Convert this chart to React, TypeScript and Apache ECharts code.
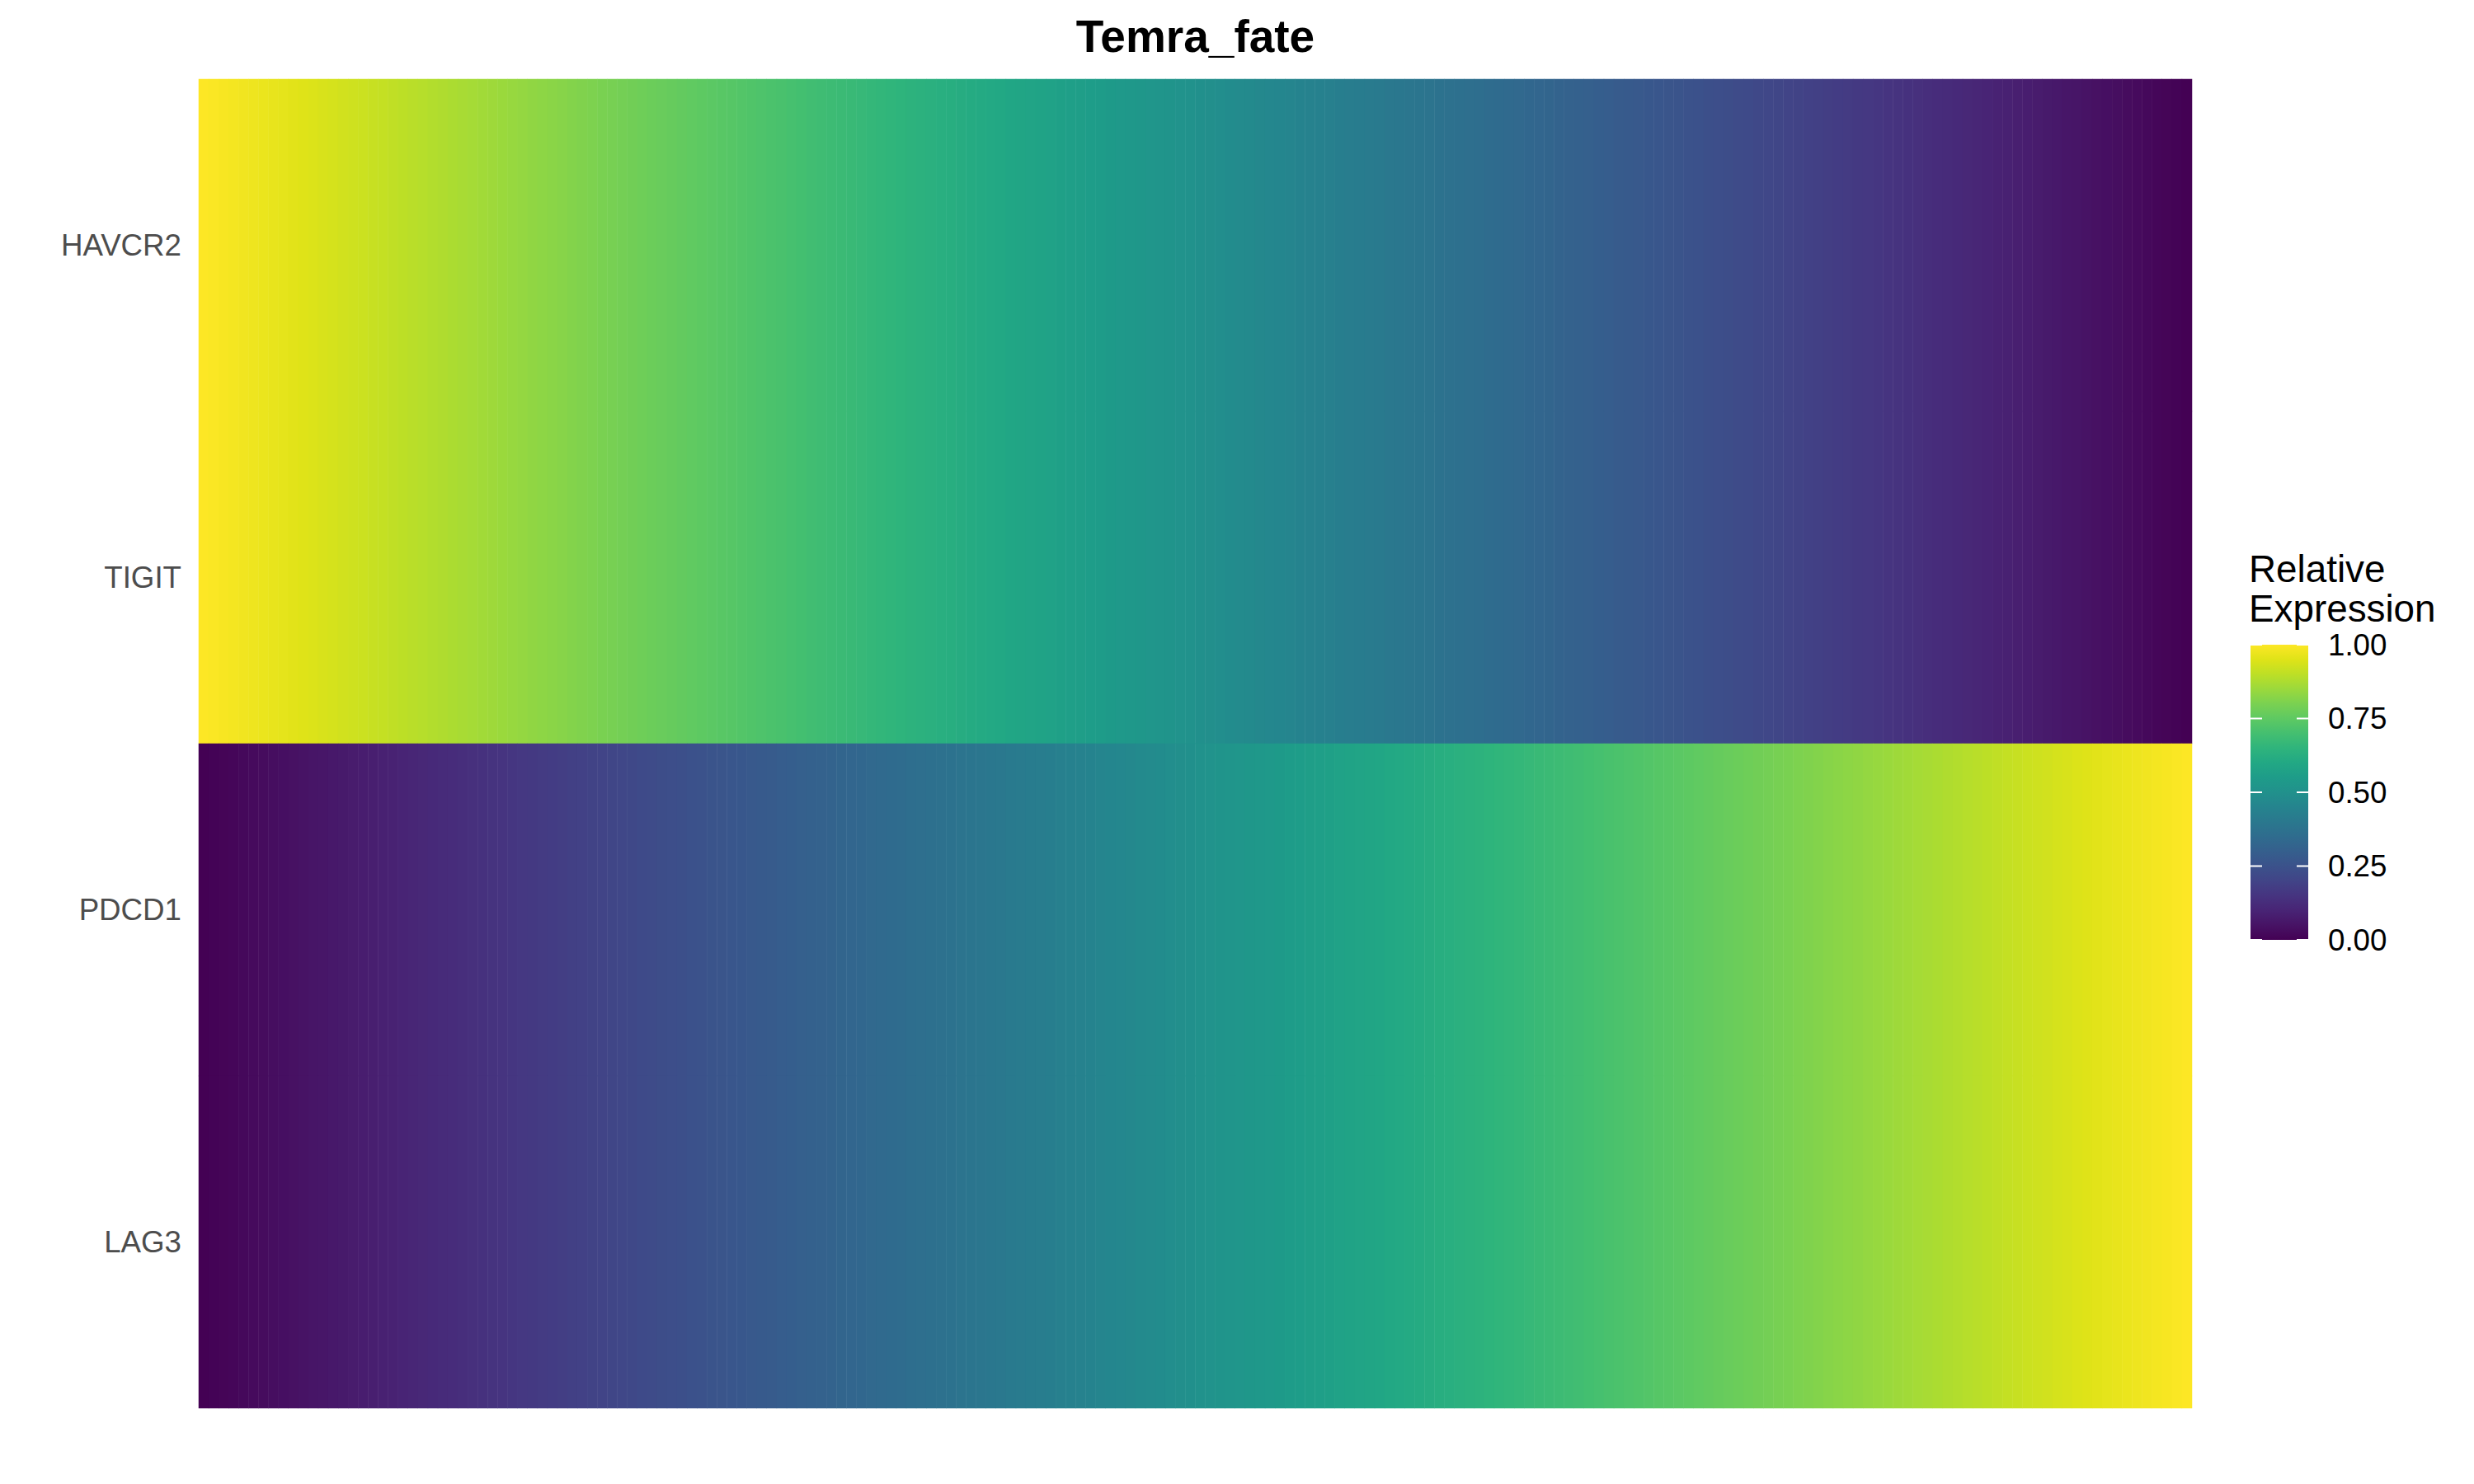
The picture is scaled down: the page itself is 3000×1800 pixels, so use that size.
import React, { useEffect, useRef } from "react";
import * as echarts from "echarts";

const chartTitle = "Temra_fate";
const genes = ["HAVCR2", "TIGIT", "PDCD1", "LAG3"];

// Relative expression along the fate trajectory (200 bins)
const declining = [
  1, 0.995, 0.99, 0.985, 0.98, 0.975, 0.97, 0.965, 0.96, 0.955, 0.95, 0.945, 0.94, 0.935, 0.93, 0.925, 0.92, 0.915, 0.91, 0.905,
  0.899, 0.894, 0.889, 0.884, 0.879, 0.874, 0.869, 0.864, 0.859, 0.854, 0.849, 0.844, 0.839, 0.834, 0.829, 0.824, 0.819, 0.814, 0.809, 0.804,
  0.799, 0.794, 0.789, 0.784, 0.779, 0.774, 0.769, 0.764, 0.759, 0.754, 0.749, 0.744, 0.739, 0.734, 0.729, 0.724, 0.719, 0.714, 0.709, 0.704,
  0.698, 0.693, 0.688, 0.683, 0.678, 0.673, 0.668, 0.663, 0.658, 0.653, 0.648, 0.643, 0.638, 0.633, 0.628, 0.623, 0.618, 0.613, 0.608, 0.603,
  0.598, 0.593, 0.588, 0.583, 0.578, 0.573, 0.568, 0.563, 0.558, 0.553, 0.548, 0.543, 0.538, 0.533, 0.528, 0.523, 0.518, 0.513, 0.508, 0.503,
  0.497, 0.492, 0.487, 0.482, 0.477, 0.472, 0.467, 0.462, 0.457, 0.452, 0.447, 0.442, 0.437, 0.432, 0.427, 0.422, 0.417, 0.412, 0.407, 0.402,
  0.397, 0.392, 0.387, 0.382, 0.377, 0.372, 0.367, 0.362, 0.357, 0.352, 0.347, 0.342, 0.337, 0.332, 0.327, 0.322, 0.317, 0.312, 0.307, 0.302,
  0.296, 0.291, 0.286, 0.281, 0.276, 0.271, 0.266, 0.261, 0.256, 0.251, 0.246, 0.241, 0.236, 0.231, 0.226, 0.221, 0.216, 0.211, 0.206, 0.201,
  0.196, 0.191, 0.186, 0.181, 0.176, 0.171, 0.166, 0.161, 0.156, 0.151, 0.146, 0.141, 0.136, 0.131, 0.126, 0.121, 0.116, 0.111, 0.106, 0.101,
  0.095, 0.09, 0.085, 0.08, 0.075, 0.07, 0.065, 0.06, 0.055, 0.05, 0.045, 0.04, 0.035, 0.03, 0.025, 0.02, 0.015, 0.01, 0.005, 0,
];

const rising = [
  0, 0.005, 0.01, 0.015, 0.02, 0.025, 0.03, 0.035, 0.04, 0.045, 0.05, 0.055, 0.06, 0.065, 0.07, 0.075, 0.08, 0.085, 0.09, 0.095,
  0.101, 0.106, 0.111, 0.116, 0.121, 0.126, 0.131, 0.136, 0.141, 0.146, 0.151, 0.156, 0.161, 0.166, 0.171, 0.176, 0.181, 0.186, 0.191, 0.196,
  0.201, 0.206, 0.211, 0.216, 0.221, 0.226, 0.231, 0.236, 0.241, 0.246, 0.251, 0.256, 0.261, 0.266, 0.271, 0.276, 0.281, 0.286, 0.291, 0.296,
  0.302, 0.307, 0.312, 0.317, 0.322, 0.327, 0.332, 0.337, 0.342, 0.347, 0.352, 0.357, 0.362, 0.367, 0.372, 0.377, 0.382, 0.387, 0.392, 0.397,
  0.402, 0.407, 0.412, 0.417, 0.422, 0.427, 0.432, 0.437, 0.442, 0.447, 0.452, 0.457, 0.462, 0.467, 0.472, 0.477, 0.482, 0.487, 0.492, 0.497,
  0.503, 0.508, 0.513, 0.518, 0.523, 0.528, 0.533, 0.538, 0.543, 0.548, 0.553, 0.558, 0.563, 0.568, 0.573, 0.578, 0.583, 0.588, 0.593, 0.598,
  0.603, 0.608, 0.613, 0.618, 0.623, 0.628, 0.633, 0.638, 0.643, 0.648, 0.653, 0.658, 0.663, 0.668, 0.673, 0.678, 0.683, 0.688, 0.693, 0.698,
  0.704, 0.709, 0.714, 0.719, 0.724, 0.729, 0.734, 0.739, 0.744, 0.749, 0.754, 0.759, 0.764, 0.769, 0.774, 0.779, 0.784, 0.789, 0.794, 0.799,
  0.804, 0.809, 0.814, 0.819, 0.824, 0.829, 0.834, 0.839, 0.844, 0.849, 0.854, 0.859, 0.864, 0.869, 0.874, 0.879, 0.884, 0.889, 0.894, 0.899,
  0.905, 0.91, 0.915, 0.92, 0.925, 0.93, 0.935, 0.94, 0.945, 0.95, 0.955, 0.96, 0.965, 0.97, 0.975, 0.98, 0.985, 0.99, 0.995, 1,
];

const geneRows = [declining, declining, rising, rising];

const legendTitle = ["Relative", "Expression"];
const legendTicks = [0, 0.25, 0.5, 0.75, 1];

const viridis = [
  "#440154", "#471365", "#482475", "#463480", "#414487", "#3b528b", "#355f8d",
  "#2f6c8e", "#2a788e", "#25848e", "#21918c", "#1e9c89", "#22a884", "#2fb47c",
  "#44bf70", "#5ec962", "#7ad151", "#9bd93c", "#bddf26", "#dfe318", "#fde725",
];

const FONT = "'Liberation Sans', Arial, Helvetica, sans-serif";

export default function App() {
  const ref = useRef<HTMLDivElement>(null);

  useEffect(() => {
    if (!ref.current) return;
    const chart = echarts.init(ref.current, undefined, { renderer: "svg" });

    const bins = declining.map((_, i) => String(i + 1));
    const data: number[][] = [];
    geneRows.forEach((row, gi) => {
      row.forEach((v, xi) => data.push([xi, gi, v]));
    });

    // layout of the plot and colour bar
    const gridLeft = 241;
    const gridTop = 96;
    const gridW = 2417;
    const gridH = 1612;

    const barX = 2729;
    const barW = 70;
    const barTop = 782;
    const barH = 358;

    const graphics: any[] = [];
    graphics.push({
      type: "text",
      x: gridLeft + gridW / 2,
      y: 44,
      style: {
        text: chartTitle,
        fill: "#000000",
        font: `bold 55px ${FONT}`,
        textAlign: "center",
        textVerticalAlign: "middle",
      },
    });
    legendTitle.forEach((t, i) => {
      graphics.push({
        type: "text",
        x: 2727,
        y: 690 + i * 48,
        style: {
          text: t,
          fill: "#000000",
          font: `45.8px ${FONT}`,
          textAlign: "left",
          textVerticalAlign: "middle",
        },
      });
    });
    graphics.push({
      type: "rect",
      shape: { x: barX, y: barTop, width: barW, height: barH },
      style: {
        fill: new echarts.graphic.LinearGradient(
          0,
          1,
          0,
          0,
          viridis.map((c, i) => ({ offset: i / (viridis.length - 1), color: c }))
        ),
      },
    });
    legendTicks.forEach((t) => {
      const y = barTop + barH * (1 - t);
      const tickLen = barW / 5;
      graphics.push({
        type: "line",
        shape: { x1: barX, y1: y, x2: barX + tickLen, y2: y },
        style: { stroke: "#ffffff", lineWidth: 2 },
      });
      graphics.push({
        type: "line",
        shape: { x1: barX + barW - tickLen, y1: y, x2: barX + barW, y2: y },
        style: { stroke: "#ffffff", lineWidth: 2 },
      });
      graphics.push({
        type: "text",
        x: 2823,
        y,
        style: {
          text: t.toFixed(2),
          fill: "#000000",
          font: `36.7px ${FONT}`,
          textAlign: "left",
          textVerticalAlign: "middle",
        },
      });
    });

    chart.setOption({
      animation: false,
      backgroundColor: "#ffffff",
      grid: {
        left: gridLeft,
        top: gridTop,
        width: gridW,
        height: gridH,
        containLabel: false,
      },
      xAxis: {
        type: "category",
        data: bins,
        show: false,
        boundaryGap: true,
      },
      yAxis: {
        type: "category",
        data: genes,
        inverse: true,
        axisLine: { show: false },
        axisTick: { show: false },
        splitLine: { show: false },
        axisLabel: {
          color: "#4d4d4d",
          fontSize: 36.7,
          fontFamily: FONT,
          margin: 21,
        },
      },
      visualMap: {
        type: "continuous",
        show: false,
        min: 0,
        max: 1,
        dimension: 2,
        inRange: { color: viridis },
      },
      series: [
        {
          type: "heatmap",
          data,
          emphasis: { disabled: true },
          itemStyle: { borderWidth: 0 },
          progressive: 0,
        },
      ],
      graphic: graphics,
    });

    return () => chart.dispose();
  }, []);

  return (
    <div
      ref={ref}
      style={{ position: "absolute", left: 0, top: 0, width: 3000, height: 1800 }}
    />
  );
}
